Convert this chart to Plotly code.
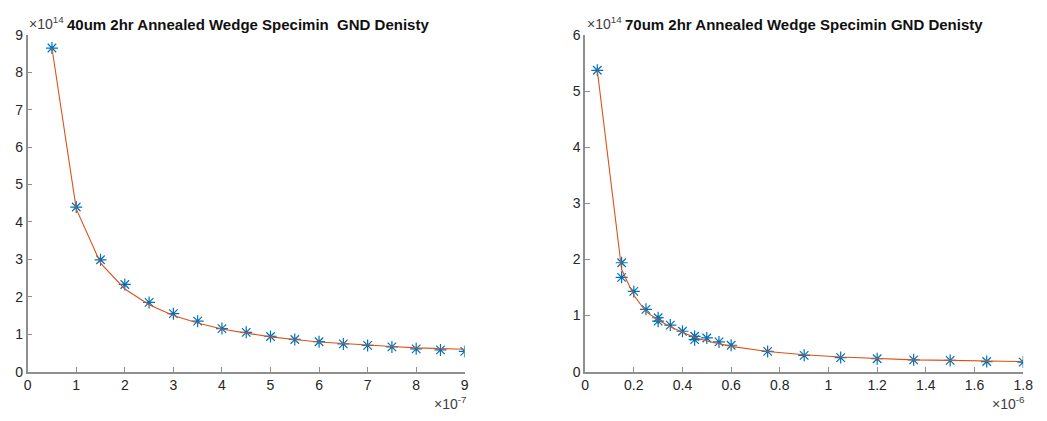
import plotly.graph_objects as go

# ---- Data (x in units of 1e-7 m for left, 1e-6 m for right; y in units of 1e14) ----
left_x = [0.5, 1, 1.5, 2, 2.5, 3, 3.5, 4, 4.5, 5, 5.5, 6, 6.5, 7, 7.5, 8, 8.5, 9]
left_y = [8.65, 4.40, 2.99, 2.33, 1.85, 1.55, 1.35, 1.15, 1.05, 0.94, 0.86, 0.80,
          0.74, 0.70, 0.66, 0.61, 0.58, 0.54]
left_fit = [8.65, 4.35, 2.90, 2.21, 1.79, 1.50, 1.30, 1.14, 1.03, 0.93, 0.86, 0.79,
            0.75, 0.70, 0.67, 0.635, 0.62, 0.60]

right_x = [0.05, 0.15, 0.15, 0.2, 0.25, 0.3, 0.3, 0.35, 0.4, 0.45, 0.45, 0.5, 0.55,
           0.6, 0.75, 0.9, 1.05, 1.2, 1.35, 1.5, 1.65, 1.8]
right_y = [5.37, 1.94, 1.68, 1.43, 1.11, 0.96, 0.90, 0.83, 0.72, 0.63, 0.57, 0.60,
           0.53, 0.47, 0.36, 0.29, 0.25, 0.23, 0.21, 0.20, 0.18, 0.17]
right_fit_x = [0.05, 0.15, 0.2, 0.25, 0.3, 0.35, 0.4, 0.45, 0.5, 0.55, 0.6, 0.75,
               0.9, 1.05, 1.2, 1.35, 1.5, 1.65, 1.8]
right_fit = [5.37, 1.82, 1.36, 1.07, 0.92, 0.80, 0.70, 0.61, 0.545, 0.50, 0.45, 0.36,
             0.30, 0.26, 0.235, 0.21, 0.20, 0.19, 0.18]

titles = ["40um 2hr Annealed Wedge Specimin  GND Denisty",
          "70um 2hr Annealed Wedge Specimin GND Denisty"]
left_xticks = list(range(0, 10))
left_yticks = list(range(0, 10))
right_xticks = [0, 0.2, 0.4, 0.6, 0.8, 1, 1.2, 1.4, 1.6, 1.8]
right_yticks = list(range(0, 7))

BLUE = "#0072BD"
ORANGE = "#D95319"
AXC = "#8f8f8f"
TXT = "#262626"
FONT = "Liberation Sans, Arial, sans-serif"

W, H = 1047, 421
fig = go.Figure()

def add_panel(x, y, fx, fy, xa, ya):
    fig.add_trace(go.Scatter(x=x, y=y, mode="markers", xaxis=xa, yaxis=ya,
                             marker=dict(symbol="asterisk-open", size=10,
                                         line=dict(color=BLUE, width=1.2), color=BLUE),
                             showlegend=False, hoverinfo="x+y"))
    fig.add_trace(go.Scatter(x=fx, y=fy, mode="lines", xaxis=xa, yaxis=ya,
                             line=dict(color=ORANGE, width=1.1),
                             showlegend=False))

add_panel(left_x, left_y, left_x, left_fit, "x", "y")
add_panel(right_x, right_y, right_fit_x, right_fit, "x2", "y2")

ydom = [(H - 378) / H, (H - 28) / H]
ax_common = dict(showgrid=False, zeroline=False, showline=True, linecolor=AXC,
                 linewidth=1.5, ticks="inside", ticklen=5, tickcolor=AXC, tickwidth=1,
                 tickfont=dict(family=FONT, size=14, color=TXT), mirror=False)

fig.update_layout(
    width=W, height=H, margin=dict(l=0, r=0, t=0, b=0),
    paper_bgcolor="white", plot_bgcolor="white",
    xaxis=dict(domain=[24 / W, 467 / W], range=[0, 9], tickvals=left_xticks,
               anchor="y", **ax_common),
    yaxis=dict(domain=ydom, range=[0, 9], tickvals=left_yticks, anchor="x", **ax_common),
    xaxis2=dict(domain=[589 / W, 1033 / W], range=[0, 1.8], tickvals=right_xticks,
                ticktext=[f"{v:g}" for v in right_xticks], anchor="y2", **ax_common),
    yaxis2=dict(domain=ydom, range=[0, 6], tickvals=right_yticks, anchor="x2", **ax_common),
)

def ann(text, x, y, size, bold=False, xanchor="center", color=TXT):
    fig.add_annotation(text=f"<b>{text}</b>" if bold else text, x=x / W, y=1 - y / H,
                       xref="paper", yref="paper", showarrow=False, xanchor=xanchor,
                       yanchor="middle", font=dict(family=FONT, size=size, color=color))

ann(titles[0], 247, 17, 15, bold=True, color="#111")
ann(titles[1], 811, 17, 15, bold=True, color="#111")
ann("×10<sup>14</sup>", 23, 16, 14, xanchor="left", color="#404040")
ann("×10<sup>14</sup>", 589, 16, 14, xanchor="left", color="#404040")
ann("×10<sup>-7</sup>", 470, 411, 14, xanchor="right", color="#404040")
ann("×10<sup>-6</sup>", 1037, 411, 14, xanchor="right", color="#404040")

post = ("document.body.style.margin='0';document.body.style.overflow='hidden';"
        "Plotly.relayout('{plot_id}', {width: 1047, height: 421});")
fig.write_html("out.html", config={"responsive": False}, post_script=post)
